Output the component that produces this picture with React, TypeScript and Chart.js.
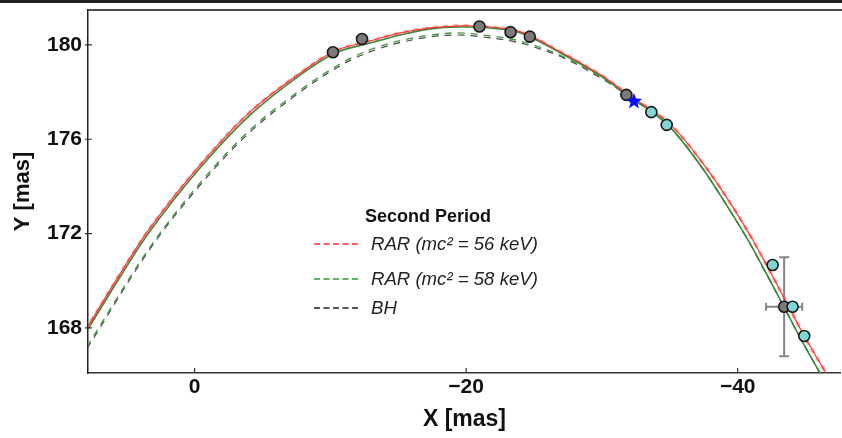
import React, { useEffect, useRef } from 'react';
import { Chart, registerables } from 'chart.js';
Chart.register(...registerables);

const FONT = "'Liberation Sans', Arial, sans-serif";

const X_TICKS = [0, -20, -40];
const Y_TICKS = [168, 172, 176, 180];

// main solid green orbit
const GREEN_X = [8.44, 7.85, 5.49, 3.28, -0.41, -4.09, -7.79, -10.36, -12.94, -15.15, -17.37, -19.58, -21.79, -24.01, -26.96, -29.90, -31.82, -34.77, -37.28, -39.12, -40.75, -42.08, -43.41, -44.65, -46.06, -46.58];
const GREEN_Y = [167.45, 167.96, 170.16, 172.11, 174.79, 177.03, 178.73, 179.66, 180.08, 180.42, 180.68, 180.76, 180.72, 180.51, 179.66, 178.69, 177.88, 176.65, 174.87, 173.26, 171.73, 170.33, 168.89, 167.53, 166.09, 165.54];

// red orbit
const RED_X = [8.44, 7.85, 5.49, 3.28, -0.41, -4.09, -7.79, -10.36, -12.94, -15.15, -17.37, -19.58, -21.79, -24.01, -26.96, -29.90, -31.97, -34.99, -37.57, -39.49, -41.11, -42.44, -43.77, -45.02, -46.50, -47.01];
const RED_Y = [167.57, 168.08, 170.29, 172.24, 174.91, 177.16, 178.81, 179.75, 180.17, 180.51, 180.72, 180.81, 180.76, 180.55, 179.70, 178.73, 177.88, 176.65, 174.87, 173.26, 171.73, 170.33, 168.89, 167.53, 166.09, 165.54];

// dashed orbits (green and black)
const DASH_X = [8.44, 7.85, 3.28, -0.41, -4.09, -7.79, -10.21, -11.69, -13.53, -15.38, -17.37, -19.36, -21.20, -23.27, -24.96, -27.18, -29.90, -31.82, -34.77, -37.28, -39.12, -40.75, -42.08, -43.41, -44.65, -46.06, -46.58];
const GREEN_DASH_Y = [166.73, 167.28, 171.43, 174.15, 176.40, 178.09, 179.02, 179.49, 179.92, 180.21, 180.42, 180.51, 180.42, 180.25, 180.00, 179.49, 178.64, 177.88, 176.65, 174.87, 173.26, 171.73, 170.33, 168.89, 167.53, 166.09, 165.54];
const BLACK_DASH_Y = [166.64, 167.19, 171.35, 174.06, 176.31, 178.01, 178.94, 179.41, 179.83, 180.13, 180.34, 180.42, 180.34, 180.17, 179.92, 179.45, 178.60, 177.88, 176.65, 174.87, 173.26, 171.73, 170.33, 168.89, 167.53, 166.09, 165.54];

// observations
const GRAY_X = [-10.19, -12.33, -20.98, -23.27, -24.69, -31.80, -43.42];
const GRAY_Y = [179.69, 180.25, 180.78, 180.54, 180.35, 177.88, 168.90];
const CYAN_X = [-33.64, -34.77, -42.57, -44.04, -44.90];
const CYAN_Y = [177.15, 176.61, 170.67, 168.90, 167.66];
const ERR_X = [-43.42];
const ERR_Y = [168.90];
const ERR_DX = [1.33];
const ERR_DY = [2.1];
const STAR_X = [-32.36];
const STAR_Y = [177.60];

const LEGEND_TITLE = 'Second Period';
const LEGEND_LABELS = ['RAR (mc² = 56 keV)', 'RAR (mc² = 58 keV)', 'BH'];
const LEGEND_COLORS = ['#ff2a2a', '#2e9a2e', '#222222'];

const pts = (xs: number[], ys: number[]) => xs.map((x, i) => ({ x, y: ys[i] }));
const fmt = (v: number) => (v < 0 ? '\u2212' + Math.abs(v) : String(v));

export default function App() {
  const ref = useRef<HTMLCanvasElement>(null);
  useEffect(() => {
    if (!ref.current) return;
    const framePlugin = {
      id: 'frame',
      beforeDraw(chart: any) {
        const c = chart.ctx;
        c.save();
        c.fillStyle = '#fff';
        c.fillRect(0, 0, chart.width, chart.height);
        c.fillStyle = '#222';
        c.fillRect(0, 0, chart.width, 3);
        c.restore();
      },
      beforeDatasetsDraw(chart: any) {
        const c = chart.ctx;
        const xs = chart.scales.x, ys = chart.scales.y;
        c.save();
        c.strokeStyle = '#858585';
        c.lineWidth = 2;
        ERR_X.forEach((x, i) => {
          const px = xs.getPixelForValue(x), py = ys.getPixelForValue(ERR_Y[i]);
          const t = ys.getPixelForValue(ERR_Y[i] + ERR_DY[i]);
          const b = ys.getPixelForValue(ERR_Y[i] - ERR_DY[i]);
          const l = xs.getPixelForValue(x + ERR_DX[i]);
          const r = xs.getPixelForValue(x - ERR_DX[i]);
          c.beginPath();
          c.moveTo(px, t); c.lineTo(px, b);
          c.moveTo(px - 5, t); c.lineTo(px + 5, t);
          c.moveTo(px - 5, b); c.lineTo(px + 5, b);
          c.moveTo(l, py); c.lineTo(r, py);
          c.moveTo(l, py - 4); c.lineTo(l, py + 4);
          c.moveTo(r, py - 4); c.lineTo(r, py + 4);
          c.stroke();
        });
        c.restore();
      },
      afterDatasetsDraw(chart: any) {
        const c = chart.ctx;
        const xs = chart.scales.x, ys = chart.scales.y;
        c.save();
        // star
        STAR_X.forEach((x, i) => {
          const cx = xs.getPixelForValue(x), cy = ys.getPixelForValue(STAR_Y[i]);
          const R = 8.5, r = 3.6;
          c.beginPath();
          for (let k = 0; k < 10; k++) {
            const a = -Math.PI / 2 + (k * Math.PI) / 5;
            const rr = k % 2 === 0 ? R : r;
            const X = cx + rr * Math.cos(a), Y = cy + rr * Math.sin(a);
            if (k === 0) c.moveTo(X, Y); else c.lineTo(X, Y);
          }
          c.closePath();
          c.fillStyle = '#0a10ff';
          c.fill();
        });
        const ca = chart.chartArea;
        // top border
        c.strokeStyle = '#4a4a4a';
        c.lineWidth = 2;
        c.beginPath();
        c.moveTo(ca.left, ca.top);
        c.lineTo(chart.width, ca.top);
        c.stroke();
        // inside ticks
        c.strokeStyle = '#333';
        c.lineWidth = 1.2;
        c.beginPath();
        X_TICKS.forEach(v => {
          const px = xs.getPixelForValue(v);
          c.moveTo(px, ca.bottom); c.lineTo(px, ca.bottom - 5);
        });
        Y_TICKS.forEach(v => {
          const py = ys.getPixelForValue(v);
          c.moveTo(ca.left - 3, py); c.lineTo(ca.left + 4, py);
        });
        c.stroke();
        // legend
        c.fillStyle = '#111';
        c.textBaseline = 'middle';
        c.textAlign = 'center';
        c.font = `bold 18px ${FONT}`;
        c.fillText(LEGEND_TITLE, 428, 217);
        const rows = [244, 279, 308];
        c.textAlign = 'left';
        c.font = `italic 18.6px ${FONT}`;
        LEGEND_LABELS.forEach((lab, i) => {
          c.strokeStyle = LEGEND_COLORS[i];
          c.lineWidth = 1.6;
          c.setLineDash([6, 3.5]);
          c.beginPath();
          c.moveTo(314, rows[i]); c.lineTo(359, rows[i]);
          c.stroke();
          c.setLineDash([]);
          c.fillStyle = '#222';
          c.fillText(lab, 371, rows[i] + 1);
        });
        c.restore();
      },
    };

    const line = (data: any, color: string, width: number, dash: number[], order: number) => ({
      type: 'scatter',
      data,
      showLine: true,
      borderColor: color,
      borderWidth: width,
      borderDash: dash,
      pointRadius: 0,
      tension: 0.35,
      fill: false,
      order,
    });

    const chart = new Chart(ref.current, {
      type: 'scatter',
      data: {
        datasets: [
          line(pts(DASH_X, BLACK_DASH_Y), '#4a4a4a', 1.2, [7, 6], 9),
          line(pts(DASH_X, GREEN_DASH_Y), '#3d9a3d', 1.3, [7, 6], 8),
          line(pts(RED_X, RED_Y), 'rgba(255,110,110,0.55)', 3.5, [5, 5], 7),
          line(pts(GREEN_X, GREEN_Y), '#3b8a3b', 1.6, [], 6),
          line(pts(RED_X, RED_Y), '#ff3232', 1.2, [], 5),
          {
            data: pts(GRAY_X, GRAY_Y),
            pointRadius: 5.5,
            backgroundColor: '#7a7a7a',
            borderColor: '#1a1a1a',
            borderWidth: 1.6,
            order: 2,
          },
          {
            data: pts(CYAN_X, CYAN_Y),
            pointRadius: 5.5,
            backgroundColor: '#82d6d6',
            borderColor: '#1a1a1a',
            borderWidth: 1.6,
            order: 1,
          },
        ] as any,
      },
      options: {
        animation: false,
        responsive: false,
        layout: { padding: { top: 10, right: 1, left: 0, bottom: 0 } },
        plugins: { legend: { display: false }, tooltip: { enabled: false } },
        scales: {
          x: {
            type: 'linear',
            reverse: true,
            min: -47.6,
            max: 7.85,
            afterBuildTicks: (s: any) => { s.ticks = X_TICKS.map(v => ({ value: v })); },
            afterFit: (s: any) => { s.height = 65; s.paddingLeft = 0; s.paddingRight = 0; },
            grid: { display: false, drawTicks: false },
            border: { display: true, color: '#333', width: 1.5 },
            ticks: {
              font: { family: FONT, size: 21, weight: 'bold' },
              color: '#111',
              padding: 2,
              maxRotation: 0,
              callback: (v: any) => fmt(Number(v)),
            },
            title: {
              display: true,
              text: 'X [mas]',
              font: { family: FONT, size: 23, weight: 'bold' },
              color: '#111',
              padding: { top: 0, bottom: 5 },
            },
          },
          y: {
            type: 'linear',
            min: 166.09,
            max: 181.48,
            afterBuildTicks: (s: any) => { s.ticks = Y_TICKS.map(v => ({ value: v })); },
            afterFit: (s: any) => { s.width = 88; s.paddingTop = 0; s.paddingBottom = 0; },
            grid: { display: false, drawTicks: false },
            border: { display: true, color: '#222', width: 1.5 },
            ticks: {
              font: { family: FONT, size: 21, weight: 'bold' },
              color: '#111',
              padding: 6,
              callback: (v: any) => fmt(Number(v)),
            },
            title: {
              display: true,
              text: 'Y [mas]',
              font: { family: FONT, size: 22, weight: 'bold' },
              color: '#111',
              padding: { top: 10, bottom: 0 },
            },
          },
        },
      } as any,
      plugins: [framePlugin],
    });
    return () => chart.destroy();
  }, []);

  return (
    <div style={{ position: 'fixed', left: 0, top: 0, width: 842, height: 438, background: '#fff', overflow: 'hidden' }}>
      <canvas ref={ref} width={848} height={438} style={{ display: 'block', width: 848, height: 438 }} />
    </div>
  );
}
